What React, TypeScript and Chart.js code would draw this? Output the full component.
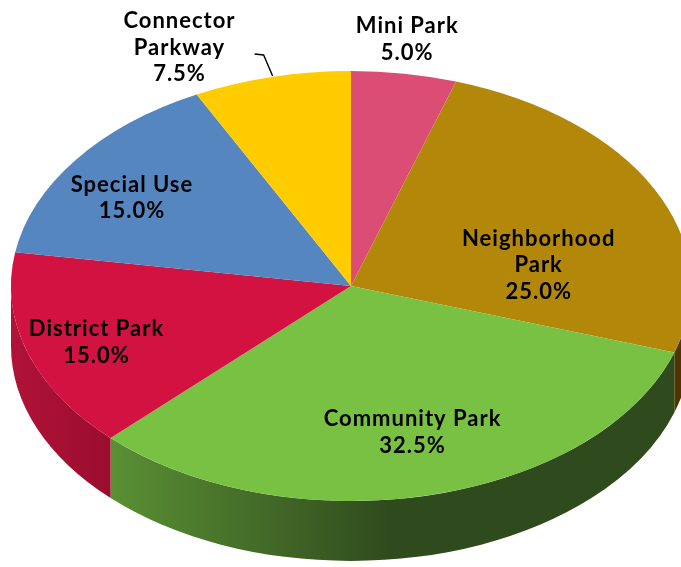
import React, { useEffect, useRef } from "react";
import { Chart, registerables } from "chart.js";

Chart.register(...registerables);

// ---- data ----
const categories = ["Mini Park", "Neighborhood Park", "Community Park", "District Park", "Special Use", "Connector Parkway"];
const shares = [5.0, 25.0, 32.5, 15.0, 15.0, 7.5];
const topColors = ["#DB4D74", "#B3880A", "#79C143", "#D21342", "#5586BF", "#FFCC00"];
// side wall gradients (left colour, right colour)
const sideColors: [string, string][] = [
  ["#8E2F4A", "#7A2640"],
  ["#4E3800", "#4A3300"],
  ["#5A9034", "#2F4A1D"],
  ["#B01337", "#9A0C2E"],
  ["#3A5C86", "#33527A"],
  ["#B38F00", "#A08000"],
];

// ---- layout (not data) ----
const RX = 340;
const RY = 215;
const DEPTH = 60;
const labelLayout = [
  { f: 1.17, dx: -6, dy: 2, wrap: false },
  { f: 0.57, dx: 15, dy: 35, wrap: true },
  { f: 0.70, dx: 6, dy: 0, wrap: false },
  { f: 0.787, dx: 0, dy: 4, wrap: false },
  { f: 0.76, dx: -10, dy: 8, wrap: false },
  { f: 1.14, dx: -81, dy: 0, wrap: true, leader: true },
];
const FONT = "bold 22px Lato, 'Open Sans', sans-serif";
const LINE_H = 26.5;

const pie3d = {
  id: "pie3d",
  beforeDatasetsDraw(chart: any) {
    const ctx = chart.ctx as CanvasRenderingContext2D;
    const meta = chart.getDatasetMeta(0);
    const arcs = meta.data as any[];
    if (!arcs.length) return;
    const cx = arcs[0].x;
    const cy = arcs[0].y;
    const r = arcs[0].outerRadius;
    const sy = RY / r;
    const rx = r;
    const ry = r * sy;
    // side walls
    arcs.forEach((arc: any, i: number) => {
      const a0 = Math.max(arc.startAngle, 0);
      const a1 = Math.min(arc.endAngle, Math.PI);
      if (a1 <= a0) return;
      const x0 = cx + rx * Math.cos(a0);
      const x1 = cx + rx * Math.cos(a1);
      const g = ctx.createLinearGradient(Math.min(x0, x1), 0, Math.max(x0, x1) + 1, 0);
      const [cl, cr] = sideColors[i];
      g.addColorStop(0, cl);
      g.addColorStop(i === 2 ? 0.5 : 1, cr);
      g.addColorStop(1, cr);
      ctx.save();
      ctx.beginPath();
      ctx.ellipse(cx, cy, rx, ry, 0, a0, a1, false);
      ctx.lineTo(cx + rx * Math.cos(a1), cy + DEPTH + ry * Math.sin(a1));
      ctx.ellipse(cx, cy + DEPTH, rx, ry, 0, a1, a0, true);
      ctx.closePath();
      ctx.fillStyle = g;
      ctx.fill();
      ctx.restore();
    });
    // squash the top face into an ellipse
    ctx.save();
    ctx.translate(cx, cy);
    ctx.scale(1, sy);
    ctx.translate(-cx, -cy);
  },
  afterDatasetsDraw(chart: any) {
    chart.ctx.restore();
  },
  afterDraw(chart: any) {
    const ctx = chart.ctx as CanvasRenderingContext2D;
    const meta = chart.getDatasetMeta(0);
    const arcs = meta.data as any[];
    if (!arcs.length) return;
    const cx = arcs[0].x;
    const cy = arcs[0].y;
    const rx = arcs[0].outerRadius;
    const ry = RY;
    ctx.save();
    ctx.font = FONT;
    (ctx as any).letterSpacing = "1px";
    ctx.fillStyle = "#000";
    ctx.textAlign = "center";
    ctx.textBaseline = "middle";
    arcs.forEach((arc: any, i: number) => {
      const mid = (arc.startAngle + arc.endAngle) / 2;
      const L = labelLayout[i];
      const x = cx + L.f * rx * Math.cos(mid) + L.dx;
      const y = cy + L.f * ry * Math.sin(mid) + L.dy;
      const name = categories[i];
      const lines = (L.wrap ? name.split(" ") : [name]).concat([shares[i].toFixed(1) + "%"]);
      const top = y - ((lines.length - 1) * LINE_H) / 2;
      lines.forEach((t, k) => ctx.fillText(t, x, top + k * LINE_H));
      if ((L as any).leader) {
        const ex = cx + rx * Math.cos(mid);
        const ey = cy + ry * Math.sin(mid);
        ctx.beginPath();
        ctx.strokeStyle = "#000";
        ctx.lineWidth = 1.4;
        ctx.moveTo(ex + 1, ey - 1);
        ctx.lineTo(ex - 8, ey - 22);
        ctx.lineTo(ex - 17, ey - 23);
        ctx.stroke();
      }
    });
    ctx.restore();
  },
};

export default function App() {
  const ref = useRef<HTMLCanvasElement>(null);
  useEffect(() => {
    if (!ref.current) return;
    const chart = new Chart(ref.current, {
      type: "pie",
      data: {
        labels: categories,
        datasets: [
          {
            data: shares,
            backgroundColor: topColors,
            borderWidth: 0,
            clip: false as any,
          },
        ],
      },
      options: {
        animation: false,
        responsive: false,
        radius: RX,
        layout: { padding: { left: 21, top: 5, right: 0, bottom: 0 } },
        plugins: { legend: { display: false }, tooltip: { enabled: false } },
        events: [],
      } as any,
      plugins: [pie3d],
    });
    return () => chart.destroy();
  }, []);
  return (
    <div style={{ position: "fixed", left: 0, top: 0, width: 681, height: 567, background: "#fff" }}>
      <canvas ref={ref} width={681} height={567} style={{ width: 681, height: 567 }} />
    </div>
  );
}
